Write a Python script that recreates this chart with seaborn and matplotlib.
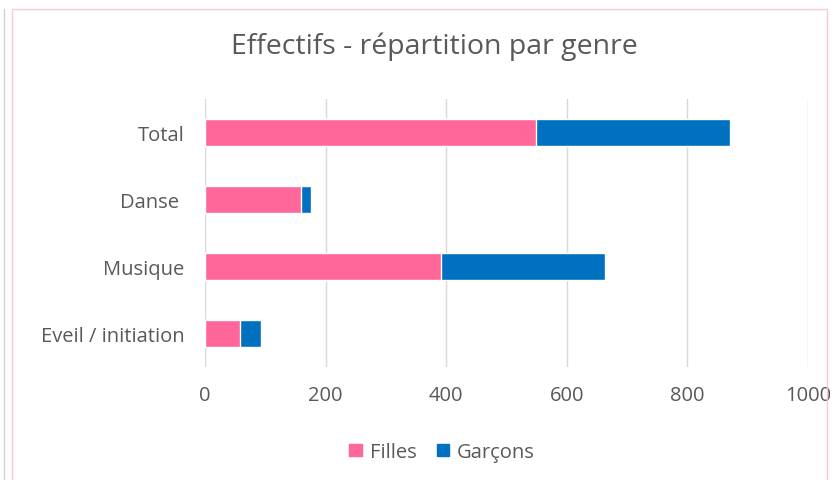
import matplotlib
matplotlib.use("Agg")
import matplotlib.pyplot as plt
import matplotlib.patches as mpatches
import seaborn as sns
import pandas as pd

# donnees
categories = ["Total", "Danse ", "Musique", "Eveil / initiation"]
filles = [549, 159, 391, 58]
garcons = [322, 17, 273, 35]
x_ticks = [0, 200, 400, 600, 800, 1000]

pink = "#FF6699"
blue = "#0070C0"
grey_txt = "#595959"

sns.set_theme(style="white")
plt.rcParams["font.family"] = ["Open Sans", "DejaVu Sans"]

df = pd.DataFrame({"cat": categories, "Filles": filles, "Garçons": garcons})
df["cumul"] = df["Filles"] + df["Garçons"]

fig = plt.figure(figsize=(8.35, 4.81), dpi=100)
ax = fig.add_axes([205 / 835, 1 - 368 / 481, 603 / 835, 268 / 481])

# empilement : total en bleu d'abord, filles en rose par-dessus
sns.barplot(data=df, x="cumul", y="cat", color=blue, width=0.4,
            orient="h", ax=ax, saturation=1, zorder=3)
sns.barplot(data=df, x="Filles", y="cat", color=pink, width=0.4,
            orient="h", ax=ax, saturation=1, zorder=4)

ax.set_xlim(0, 1000)
ax.set_ylim(3.5, -0.5)
ax.set_xticks(x_ticks)
ax.set_xticklabels([str(v) for v in x_ticks])
ax.grid(axis="x", color="#D9D9D9", linewidth=1, zorder=0)
ax.set_axisbelow(True)
for s in ax.spines.values():
    s.set_visible(False)
ax.tick_params(axis="x", length=0, pad=13, labelsize=14.5, labelcolor=grey_txt)
ax.tick_params(axis="y", length=0, pad=15, labelsize=14.5, labelcolor=grey_txt)
ax.set_xlabel("")
ax.set_ylabel("")

fig.text(434 / 835, 1 - 47 / 481, "Effectifs - répartition par genre",
         ha="center", va="center", fontsize=20.5, color=grey_txt)

handles = [mpatches.Patch(color=pink, label="Filles"),
           mpatches.Patch(color=blue, label="Garçons")]
fig.legend(handles=handles, loc="center", bbox_to_anchor=(442 / 835, 1 - 453 / 481),
           ncol=2, frameon=False, fontsize=14.5, labelcolor=grey_txt,
           handlelength=0.6, handleheight=0.6, handletextpad=0.4, columnspacing=1.0)

# cadre du graphique
fig.patches.append(mpatches.Rectangle((12 / 835, -0.05), 815 / 835, 1.05 - 10 / 481,
                                      transform=fig.transFigure, fill=False,
                                      edgecolor="#F8C8D8", linewidth=1))
fig.lines.append(plt.Line2D([4 / 835, 4 / 835], [0, 1 - 10 / 481],
                            transform=fig.transFigure, color="#D0D0D0", linewidth=1))

fig.savefig("out.png", dpi=100)
